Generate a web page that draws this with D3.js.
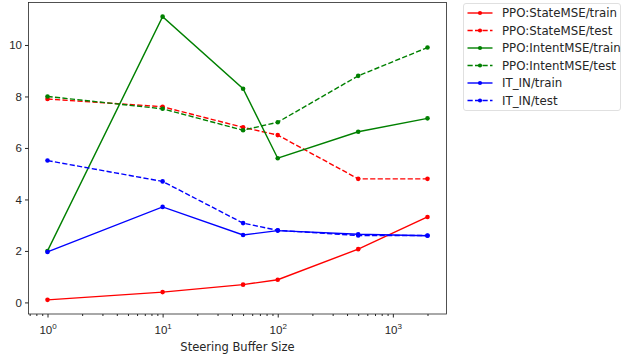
<!DOCTYPE html>
<html>
<head>
<meta charset="utf-8">
<script src="https://cdn.jsdelivr.net/npm/d3@7"></script>
<style>
  body { margin: 0; background: #fff; }
  svg { display: block; font-family: "DejaVu Sans", sans-serif; }
  .axis text { font-size: 11.5px; fill: #262626; }
  .axis path, .axis line { stroke: #262626; }
</style>
</head>
<body>
<div id="chart"></div>
<script>
// buffer sizes on the x axis and one value array per series
const bufferSizes = [1, 10, 50, 100, 500, 2000];
const stateTrain = [0.1, 0.4, 0.69, 0.88, 2.07, 3.32];
const stateTest = [7.9, 7.6, 6.8, 6.5, 4.8, 4.8];
const intentTrain = [2.0, 11.1, 8.3, 5.6, 6.63, 7.15];
const intentTest = [8.0, 7.52, 6.69, 7.0, 8.8, 9.9];
const itinTrain = [1.96, 3.71, 2.62, 2.79, 2.65, 2.59];
const itinTest = [5.51, 4.7, 3.08, 2.8, 2.6, 2.6];

const series = [
    { name: 'PPO:StateMSE/train', values: stateTrain, color: '#ff0000', dashed: false },
    { name: 'PPO:StateMSE/test', values: stateTest, color: '#ff0000', dashed: true },
    { name: 'PPO:IntentMSE/train', values: intentTrain, color: '#008000', dashed: false },
    { name: 'PPO:IntentMSE/test', values: intentTest, color: '#008000', dashed: true },
    { name: 'IT_IN/train', values: itinTrain, color: '#0000ff', dashed: false },
    { name: 'IT_IN/test', values: itinTest, color: '#0000ff', dashed: true },
];
const yTicks = [0, 2, 4, 6, 8, 10];
const xTicks = [1, 10, 100, 1000];

const W = 621, H = 354;
const m = { top: 2.5, right: 174.5, bottom: 40, left: 28.5 };
const iw = W - m.left - m.right, ih = H - m.top - m.bottom;

const svg = d3.select('#chart').append('svg').attr('width', W).attr('height', H);
const g = svg.append('g').attr('transform', `translate(${m.left},${m.top})`);

// matplotlib style 5% margins, log space for x
const lx = d3.extent(bufferSizes).map(Math.log10);
const padX = (lx[1] - lx[0]) * 0.05;
const x = d3.scaleLog().domain([10 ** (lx[0] - padX), 10 ** (lx[1] + padX)]).range([0, iw]);
const all = series.flatMap((s) => s.values);
const [ymin, ymax] = d3.extent(all);
const padY = (ymax - ymin) * 0.05;
const y = d3.scaleLinear().domain([ymin - padY, ymax + padY]).range([ih, 0]);

// minor ticks on the log axis
const minor = [];
for (let e = -1; e <= 3; e++) {
    for (let k = 2; k <= 9; k++) {
        const v = k * 10 ** e;
        if (v >= x.domain()[0] && v <= x.domain()[1]) minor.push(v);
    }
}
g.append('g').attr('class', 'axis').attr('transform', `translate(0,${ih})`)
    .call(d3.axisBottom(x).tickValues(minor).tickSize(2).tickFormat(''))
    .call((a) => a.select('.domain').remove());

const xAxis = g.append('g').attr('class', 'axis').attr('transform', `translate(0,${ih})`)
    .call(d3.axisBottom(x).tickValues(xTicks).tickSize(3.5).tickPadding(4).tickFormat(''));
xAxis.select('.domain').remove();
xAxis.selectAll('.tick').each(function (d) {
    const t = d3.select(this).append('text').attr('y', 20).attr('text-anchor', 'middle').attr('fill', '#262626');
    t.append('tspan').text('10');
    t.append('tspan').attr('dy', -5).attr('font-size', '8px').text(Math.round(Math.log10(d)));
});

const yAxis = g.append('g').attr('class', 'axis')
    .call(d3.axisLeft(y).tickValues(yTicks).tickSize(3.5).tickPadding(3));
yAxis.select('.domain').remove();

// frame
g.append('rect').attr('width', iw).attr('height', ih)
    .attr('fill', 'none').attr('stroke', '#262626').attr('stroke-width', 0.8);

const line = d3.line().x((d, i) => x(bufferSizes[i])).y((d) => y(d));

const lines = g.append('g').selectAll('g').data(series).join('g');
lines.append('path')
    .attr('d', (d) => line(d.values))
    .attr('fill', 'none')
    .attr('stroke', (d) => d.color)
    .attr('stroke-width', 1.4)
    .attr('stroke-dasharray', (d) => (d.dashed ? '5.2 2.3' : null));
lines.selectAll('circle')
    .data((d) => d.values.map((v, i) => ({ v, i, color: d.color })))
    .join('circle')
    .attr('cx', (d) => x(bufferSizes[d.i]))
    .attr('cy', (d) => y(d.v))
    .attr('r', 2.3)
    .attr('fill', (d) => d.color);

svg.append('text')
    .attr('x', m.left + iw / 2).attr('y', H - 3)
    .attr('text-anchor', 'middle').attr('font-size', '11.5px').attr('fill', '#262626')
    .text('Steering Buffer Size');

// legend outside the axes, upper right
const lg = svg.append('g').attr('transform', 'translate(463.5,3.5)');
lg.append('rect').attr('width', 157).attr('height', 107).attr('rx', 2.5)
    .attr('fill', '#fff').attr('stroke', '#d8d8d8').attr('stroke-width', 0.8);
const items = lg.selectAll('g.item').data(series).join('g')
    .attr('class', 'item')
    .attr('transform', (d, i) => `translate(0,${9.5 + i * 17.5})`);
items.append('line').attr('x1', 4).attr('x2', 29)
    .attr('stroke', (d) => d.color).attr('stroke-width', 1.4)
    .attr('stroke-dasharray', (d) => (d.dashed ? '5.2 2.3' : null));
items.append('circle').attr('cx', 16.5).attr('r', 2.1).attr('fill', (d) => d.color);
items.append('text').attr('x', 38.5).attr('dy', '0.35em')
    .attr('font-size', '11.8px').attr('fill', '#262626').text((d) => d.name);
</script>
</body>
</html>
